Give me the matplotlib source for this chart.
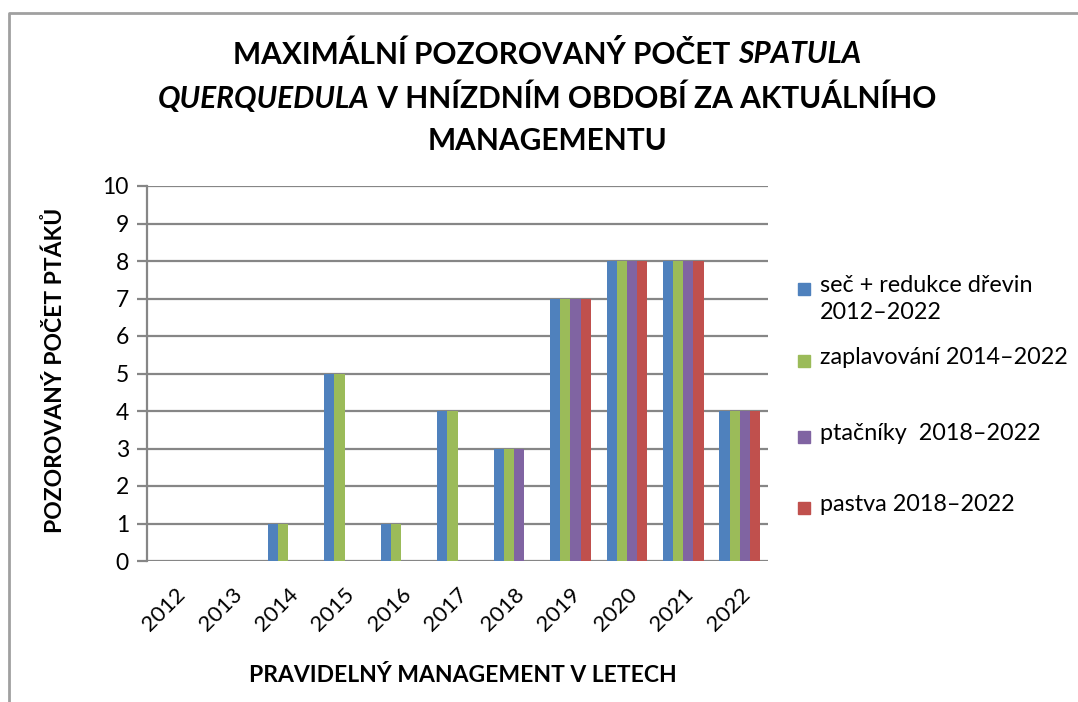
import matplotlib
matplotlib.use("Agg")
import matplotlib.pyplot as plt
from matplotlib.lines import Line2D
from matplotlib.patches import Rectangle
import numpy as np

years = ["2012", "2013", "2014", "2015", "2016", "2017", "2018", "2019", "2020", "2021", "2022"]
sec = [0, 0, 1, 5, 1, 4, 3, 7, 8, 8, 4]
zaplavovani = [np.nan, np.nan, 1, 5, 1, 4, 3, 7, 8, 8, 4]
ptacniky = [np.nan] * 6 + [3, 7, 8, 8, 4]
pastva = [np.nan] * 6 + [0, 7, 8, 8, 4]
series = [sec, zaplavovani, ptacniky, pastva]
labels = ["seč + redukce dřevin\n2012–2022", "zaplavování 2014–2022",
          "ptačníky  2018–2022", "pastva 2018–2022"]
colors = ["#4F81BD", "#9BBB59", "#8064A2", "#C0504D"]

plt.rcParams["font.family"] = ["Lato", "DejaVu Sans"]
W, H = 1078, 702
fig = plt.figure(figsize=(W / 100, H / 100), dpi=100)
ax = fig.add_axes([147 / W, 1 - 561 / H, (768 - 147) / W, (561 - 186) / H])

x = np.arange(len(years))
bw = 0.18
for i, (vals, c) in enumerate(zip(series, colors)):
    ax.bar(x + (i - 1.5) * bw, vals, bw, color=c, zorder=3)

grid_c = "#868686"
ax.set_ylim(0, 10)
ax.set_xlim(-0.5, len(years) - 0.5)
ax.set_yticks(range(0, 11))
ax.yaxis.grid(True, color=grid_c, lw=1.6, zorder=1)
for s in ["top", "right", "bottom"]:
    ax.spines[s].set_visible(False)
ax.spines["left"].set_color(grid_c)
ax.spines["left"].set_linewidth(1.6)
ax.tick_params(axis="y", length=7, width=1.6, color=grid_c, labelsize=16.5, pad=6)
ax.set_xticks(x)
ax.set_xticklabels(years, rotation=45, ha="right", rotation_mode="anchor", fontsize=16)
ax.tick_params(axis="x", length=0, pad=17)

fig.text(463 / W, 1 - 675 / H, "PRAVIDELNÝ MANAGEMENT V LETECH", ha="center", va="center",
         fontsize=16.5, fontweight="bold")
fig.text(55 / W, 1 - 370 / H, "POZOROVANÝ POČET PTÁKŮ", ha="center", va="center",
         rotation=90, fontsize=16.5, fontweight="bold")

# title with italic species name
renderer = fig.canvas.get_renderer()
title_lines = [
    [("MAXIMÁLNÍ POZOROVANÝ POČET ", "normal"), ("SPATULA", "italic")],
    [("QUERQUEDULA", "italic"), (" V HNÍZDNÍM OBDOBÍ ZA AKTUÁLNÍHO", "normal")],
    [("MANAGEMENTU", "normal")],
]
line_y = [54, 99, 141]
for parts, yy in zip(title_lines, line_y):
    texts = [fig.text(0, 1 - yy / H, t, fontsize=21.5, fontweight="bold", style=st,
                      va="center", ha="left") for t, st in parts]
    widths = [t.get_window_extent(renderer).width for t in texts]
    start = 547 - sum(widths) / 2
    for t, w in zip(texts, widths):
        t.set_x(start / W)
        start += w

# legend
leg_y = [289, 361, 437, 508]
for lab, c, yy in zip(labels, colors, leg_y):
    fig.add_artist(Rectangle((798 / W, 1 - (yy + 6) / H), 12 / W, 12 / H,
                             transform=fig.transFigure, color=c))
    fig.text(820 / W, 1 - (yy - 14) / H, lab, fontsize=16.8, va="top", ha="left",
             linespacing=1.35)

# chart frame
fig.add_artist(Line2D([9 / W, 9 / W, 1], [0, 1 - 13 / H, 1 - 13 / H],
                      transform=fig.transFigure, color="#a0a0a0", lw=2))

fig.savefig("out.png", dpi=100)
